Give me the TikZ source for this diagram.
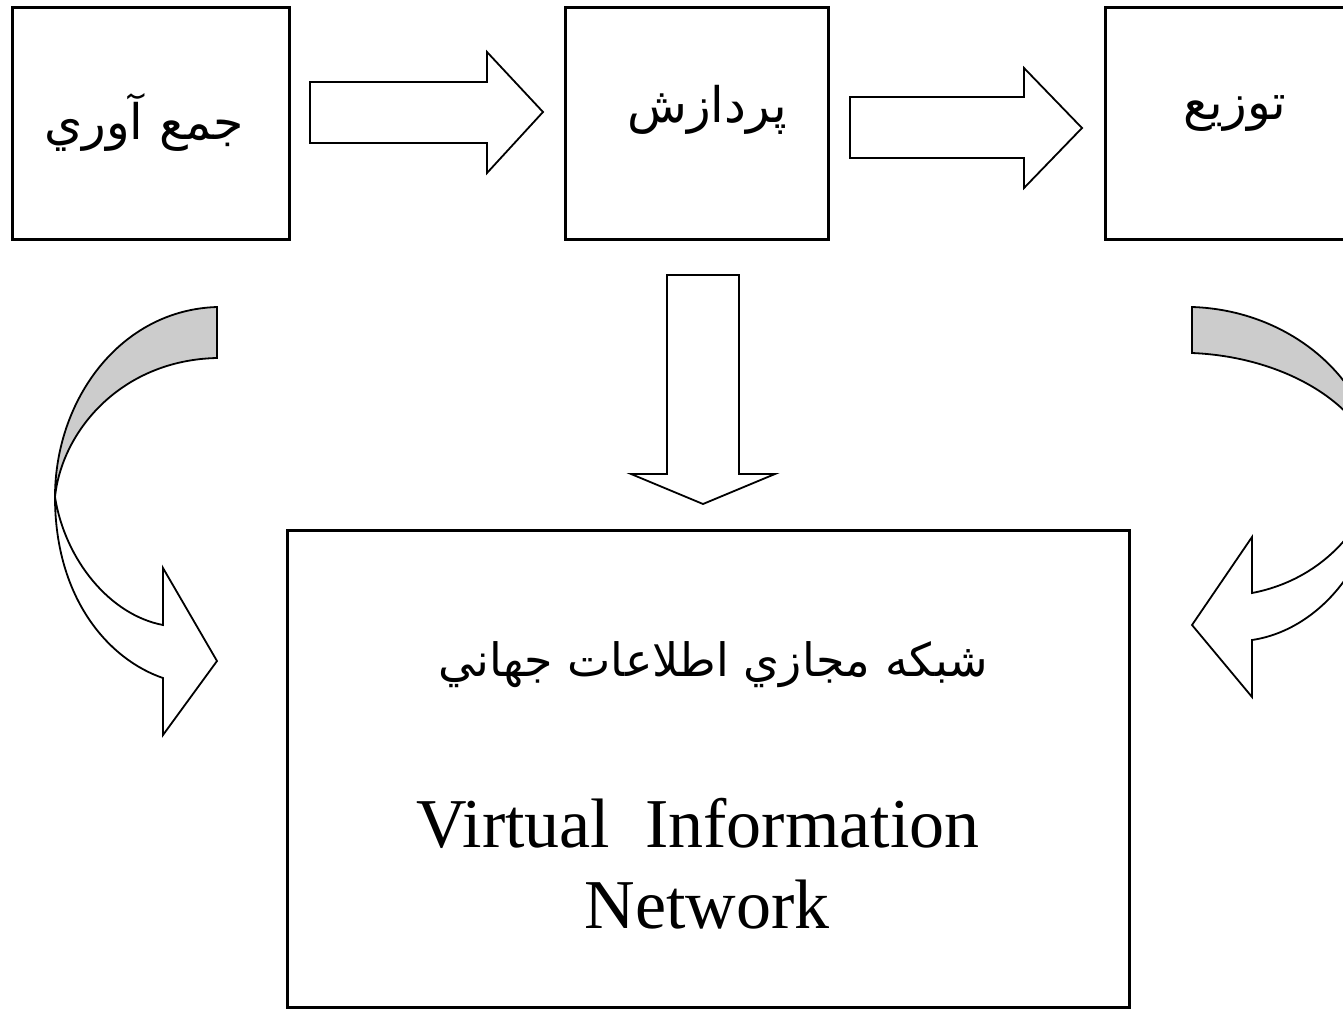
\documentclass[tikz,border=0pt]{standalone}
\usepackage{fontspec}
\setmainfont{Liberation Serif}
\newfontfamily\arabicfont[Script=Arabic]{DejaVu Sans}
\TeXXeTstate=1
\begin{document}
\begin{tikzpicture}[x=1pt,y=-1pt,
  box/.style={draw, line width=3pt, rectangle, inner sep=0pt},
  blk/.style={draw, line width=1.8pt, fill=white, line join=miter},
  band/.style={draw, line width=1.8pt, fill=gray!40, line join=miter},
  ar/.style={font=\arabicfont\fontsize{49}{58}\selectfont, inner sep=0pt},
  arbig/.style={font=\arabicfont\fontsize{46}{56}\selectfont, inner sep=0pt},
  en/.style={font=\fontsize{70}{84}\selectfont, inner sep=0pt, anchor=base}]
\useasboundingbox (0,0) rectangle (1343,1009);
\clip (0,0) rectangle (1343,1009);
% boxes
\node[box, minimum width=277pt, minimum height=232pt] (b1) at (150.5,123) {};
\node[box, minimum width=263pt, minimum height=232pt] (b2) at (696.5,123) {};
\node[box, minimum width=265pt, minimum height=232pt] (b3) at (1237.5,123) {};
\node[box, minimum width=842pt, minimum height=477pt] (net) at (708,768.5) {};
% texts
\node[ar] (t1) at (144,122) {\beginR جمع آوري\endR};
\node[ar] (t2) at (707,110) {\beginR پردازش\endR};
\node[ar] (t3) at (1235,114) {\beginR توزيع\endR};
\node[arbig] (t4) at (713,665) {\beginR شبکه مجازي اطلاعات جهاني\endR};
\node[en] (t5) at (698,847) {Virtual\ \ Information};
\node[en] (t6) at (707,928) {Network};
% straight block arrows
\draw[blk] (310,82) -- (487,82) -- (487,52) -- (543,112) -- (487,173) -- (487,143) -- (310,143) -- cycle;
\draw[blk] (850,97) -- (1024,97) -- (1024,68) -- (1082,128) -- (1024,188) -- (1024,158) -- (850,158) -- cycle;
\draw[blk] (667,275) -- (739,275) -- (739,474) -- (775,474) -- (703,504) -- (631,474) -- (667,474) -- cycle;
% left curved arrow
\draw[band] (217,307) .. controls (120,310) and (55,400) .. (55,497)
  .. controls (62,430) and (122,360) .. (217,358) -- cycle;
\draw[blk] (55,497) .. controls (65,560) and (110,615) .. (163,625)
  -- (163,568) -- (217,661) -- (163,735) -- (163,678)
  .. controls (110,660) and (55,600) .. (55,497) -- cycle;
% right curved arrow
\draw[band] (1192,307) .. controls (1290,310) and (1375,380) .. (1378,475)
  .. controls (1372,410) and (1290,357) .. (1192,353) -- cycle;
\draw[blk] (1378,475) .. controls (1365,530) and (1320,580) .. (1252,593)
  -- (1252,537) -- (1192,625) -- (1252,697) -- (1252,640)
  .. controls (1320,630) and (1378,560) .. (1378,475) -- cycle;
\end{tikzpicture}
\end{document}
